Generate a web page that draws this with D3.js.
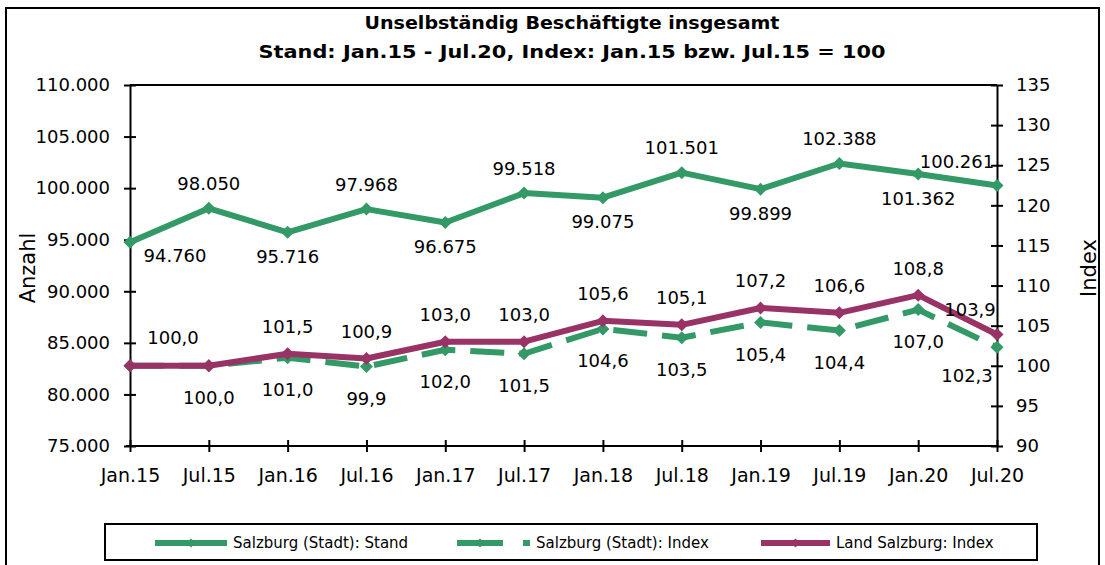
<!DOCTYPE html>
<html>
<head>
<meta charset="utf-8">
<script src="https://cdn.jsdelivr.net/npm/d3@7"></script>
<style>
  html, body { margin: 0; padding: 0; background: #fff; }
  svg { display: block; }
  text { font-family: "DejaVu Sans", Verdana, sans-serif; fill: #000; }
</style>
</head>
<body>
<svg id="chart" width="1105" height="565"></svg>
<script>
// ---- data ----
const categories = ["Jan.15","Jul.15","Jan.16","Jul.16","Jan.17","Jul.17","Jan.18","Jul.18","Jan.19","Jul.19","Jan.20","Jul.20"];
const standStadt = [94760, 98050, 95716, 97968, 96675, 99518, 99075, 101501, 99899, 102388, 101362, 100261];
const indexStadt = [100.0, 100.0, 101.0, 99.9, 102.0, 101.5, 104.6, 103.5, 105.4, 104.4, 107.0, 102.3];
const indexLand  = [100.0, 100.0, 101.5, 100.9, 103.0, 103.0, 105.6, 105.1, 107.2, 106.6, 108.8, 103.9];
const leftTicks  = [75000, 80000, 85000, 90000, 95000, 100000, 105000, 110000];
const rightTicks = [90, 95, 100, 105, 110, 115, 120, 125, 130, 135];
const seriesNames = ["Salzburg (Stadt): Stand", "Salzburg (Stadt): Index", "Land Salzburg: Index"];
const titleLines = ["Unselbständig Beschäftigte insgesamt", "Stand: Jan.15 - Jul.20, Index: Jan.15 bzw. Jul.15 = 100"];

// ---- styles ----
const GREEN = "#339966", MAROON = "#993366";
const L = 130, R = 997, T = 85, B = 446;

const de = d3.formatLocale({decimal: ",", thousands: ".", grouping: [3], currency: ["", " €"]});
const fmtInt = de.format(",.0f");
const fmt1 = de.format(",.1f");

const svg = d3.select("#chart");

// outer frame
svg.append("rect").attr("x", 6).attr("y", 8).attr("width", 1093).attr("height", 600)
  .attr("fill", "none").attr("stroke", "#000").attr("stroke-width", 2);

// titles
svg.append("text").attr("x", 572).attr("y", 29).attr("text-anchor", "middle")
  .attr("font-size", 18.5).attr("font-weight", "bold")
  .attr("textLength", 415).attr("lengthAdjust", "spacingAndGlyphs").text(titleLines[0]);
svg.append("text").attr("x", 572).attr("y", 58).attr("text-anchor", "middle")
  .attr("font-size", 18.5).attr("font-weight", "bold")
  .attr("textLength", 627).attr("lengthAdjust", "spacingAndGlyphs").text(titleLines[1]);

// scales
const x = d3.scalePoint().domain(categories).range([L, R]);
const yL = d3.scaleLinear().domain([75000, 110000]).range([B, T]);
const yR = d3.scaleLinear().domain([90, 135]).range([B, T]);

// plot top border
svg.append("line").attr("x1", L).attr("x2", R).attr("y1", T).attr("y2", T)
  .attr("stroke", "#000").attr("stroke-width", 2);

function crossTicks(g, horiz) {
  g.selectAll(".tick line").attr("stroke-width", 2);
  if (horiz) g.selectAll(".tick line").attr("y1", -6).attr("y2", 6);
  else g.selectAll(".tick line").attr("x1", -6).attr("x2", 6);
  g.select(".domain").attr("stroke-width", 2);
}

const gL = svg.append("g").attr("transform", `translate(${L},0)`)
  .call(d3.axisLeft(yL).tickValues(leftTicks).tickFormat(fmtInt).tickSizeInner(6).tickSizeOuter(0).tickPadding(14));
gL.selectAll("text").attr("font-size", 18).attr("font-family", "DejaVu Sans");
crossTicks(gL, false);

const gR = svg.append("g").attr("transform", `translate(${R},0)`)
  .call(d3.axisRight(yR).tickValues(rightTicks).tickFormat(d3.format("d")).tickSizeInner(6).tickSizeOuter(0).tickPadding(13));
gR.selectAll("text").attr("font-size", 18).attr("font-family", "DejaVu Sans");
crossTicks(gR, false);

const gB = svg.append("g").attr("transform", `translate(0,${B})`)
  .call(d3.axisBottom(x).tickSizeInner(6).tickSizeOuter(0).tickPadding(17));
gB.selectAll("text").attr("font-size", 19).attr("font-family", "DejaVu Sans");
crossTicks(gB, true);
gB.select(".domain").attr("d", `M${L - 4},0H${R}`);

// axis titles
svg.append("text").attr("transform", "translate(35,268) rotate(-90)").attr("text-anchor", "middle")
  .attr("font-size", 21).text("Anzahl");
svg.append("text").attr("transform", "translate(1096,268) rotate(-90)").attr("text-anchor", "middle")
  .attr("font-size", 21).text("Index");

// series
const diamond = "M0,-6.5L6.5,0L0,6.5L-6.5,0Z";
function drawSeries(values, yScale, color, dash) {
  const line = d3.line().x((d, i) => x(categories[i])).y(d => yScale(d));
  svg.append("path").datum(values).attr("d", line).attr("fill", "none")
    .attr("stroke", color).attr("stroke-width", 6).attr("stroke-linejoin", "round")
    .attr("stroke-dasharray", dash || null);
  svg.append("g").selectAll("path").data(values).join("path")
    .attr("d", diamond).attr("fill", color)
    .attr("transform", (d, i) => `translate(${x(categories[i])},${yScale(d)})`);
}
drawSeries(standStadt, yL, GREEN);
drawSeries(indexStadt, yR, GREEN, "34,15");
drawSeries(indexLand, yR, MAROON);

// data labels
function labels(values, yScale, fmt, place) {
  svg.append("g").selectAll("text").data(values).join("text")
    .each(function (d, i) {
      const p = place(i);
      if (!p) return;
      d3.select(this).attr("x", x(categories[i]) + p[0]).attr("y", yScale(d) + p[1])
        .attr("dy", "0.36em").attr("text-anchor", "middle").attr("font-size", 18).text(fmt(d));
    });
}
const last = categories.length - 1;
labels(standStadt, yL, fmtInt, i => {
  if (i === 0) return [45, 13];
  if (i === last) return [-40, -24];
  return i % 2 ? [0, -25] : [0, 24];
});
labels(indexStadt, yR, fmt1, i => {
  if (i === 0) return null;
  if (i === last) return [-30, 28];
  return [0, 32];
});
labels(indexLand, yR, fmt1, i => {
  if (i === 1) return null;
  if (i === 0) return [43, -28];
  if (i === last) return [-27, -25];
  return [0, -27];
});

// legend
const leg = svg.append("g");
leg.append("rect").attr("x", 105).attr("y", 524).attr("width", 932).attr("height", 36)
  .attr("fill", "#fff").attr("stroke", "#000").attr("stroke-width", 2);
const legItems = [
  {x1: 155, x2: 227, color: GREEN, dash: null, tx: 233},
  {x1: 457, x2: 530, color: GREEN, dash: "46,20", tx: 536},
  {x1: 761, x2: 830, color: MAROON, dash: null, tx: 836}
];
legItems.forEach((it, k) => {
  const ly = 543;
  leg.append("line").attr("x1", it.x1).attr("x2", it.x2).attr("y1", ly).attr("y2", ly)
    .attr("stroke", it.color).attr("stroke-width", 6).attr("stroke-dasharray", it.dash);
  leg.append("path").attr("d", "M0,-4.5L4.5,0L0,4.5L-4.5,0Z").attr("fill", it.color)
    .attr("transform", `translate(${k === 1 ? 480 : (it.x1 + it.x2) / 2},${ly})`);
  leg.append("text").attr("x", it.tx).attr("y", ly).attr("dy", "0.36em")
    .attr("font-size", 15).text(seriesNames[k]);
});
</script>
</body>
</html>
